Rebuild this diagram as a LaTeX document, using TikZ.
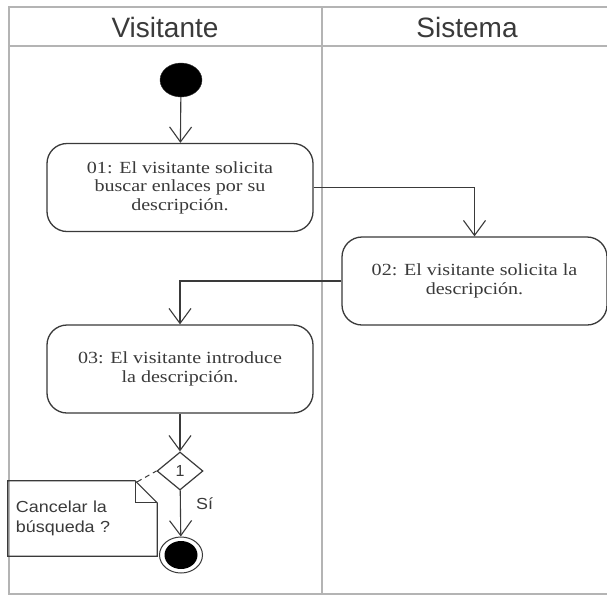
\documentclass[tikz,border=0pt]{standalone}
\usepackage{fontspec}
\setmainfont[FakeStretch=1.18]{Liberation Serif}
\newfontfamily\headfont{Liberation Sans}
\newfontfamily\notefont[FakeStretch=1.12]{Liberation Sans}
\usetikzlibrary{arrows.meta,shapes.geometric}
\definecolor{lane}{HTML}{B4B4B4}
\definecolor{ink}{HTML}{3A3A3A}
\tikzset{
  lanerule/.style={draw=lane, line width=2pt},
  header/.style={font=\headfont\fontsize{28}{32}\selectfont, text=ink},
  action/.style={draw=ink, line width=1.3pt, rounded corners=20pt, inner sep=0pt,
    minimum width=266pt, minimum height=88pt, align=center, text=ink,
    font=\fontsize{17}{18.5}\selectfont},
  flow/.style={draw=ink, line width=1.1pt, -{Straight Barb[length=15pt, width=22pt, line width=1.1pt]}},
  initial/.style={ellipse, fill=black, draw=ink, minimum width=42pt, minimum height=34pt, inner sep=0pt},
  finalring/.style={ellipse, draw=ink, line width=1pt, minimum width=43pt, minimum height=36pt, inner sep=0pt},
  decision/.style={diamond, draw=ink, line width=1.2pt, minimum width=46pt, minimum height=38pt,
    inner sep=0pt, text=ink, font=\headfont\fontsize{16}{18}\selectfont},
  notebox/.style={minimum width=149pt, minimum height=75pt, inner sep=8pt, text width=133pt,
    align=left, text=ink, font=\notefont\fontsize{16}{20}\selectfont},
  guard/.style={text=ink, font=\notefont\fontsize{16}{18}\selectfont, inner sep=0pt},
}
\begin{document}
\begin{tikzpicture}[x=1pt, y=-1pt]
\useasboundingbox (0,0) rectangle (607,595);
\fill[white] (0,0) rectangle (607,595);

% swimlane frame
\draw[lanerule] (607,7) -- (9,7) -- (9,594) -- (607,594);
\draw[lanerule] (9,46) -- (607,46);
\draw[lanerule] (322,7) -- (322,594);
\node[header] (hv) at (165,27) {Visitante};
\node[header] (hs) at (467,27) {Sistema};

% activity nodes
\node[initial] (start) at (181,80) {};
\node[action] (a1) at (180,187.5) {01: El visitante solicita\\buscar enlaces por su\\descripción.};
\node[action, minimum width=265pt] (a2) at (474.5,281) {02: El visitante solicita la\\descripción.};
\node[action] (a3) at (180,369) {03: El visitante introduce\\la descripción.};
\node[decision] (dec) at (180,471) {1};
\node[finalring] (stop) at (181,555) {};
\fill[black] (stop.center) ellipse [x radius=16.5pt, y radius=14pt];

% note attached to the decision, with its folded corner
\node[notebox] (note) at (82.5,518.5) {Cancelar la\\búsqueda ?};
\draw[ink, line width=1.2pt]
  (note.north west) -- ([xshift=-22pt]note.north east) -- ([yshift=-22pt]note.north east)
  -- (note.south east) -- (note.south west) -- cycle;
\draw[ink, line width=1pt] ([xshift=-22pt]note.north east) |- ([yshift=-22pt]note.north east);
\draw[ink, line width=1pt, dash pattern=on 5pt off 4pt] ([xshift=-20pt, yshift=-1pt]note.north east) -- (dec.west);

% control flow
\draw[flow] (start) -- (a1);
\draw[flow] (a1.east) -| (a2.north);
\draw[flow] (a2.west) -| (a3.north);
\draw[flow] (a3) -- (dec);
\draw[flow] (dec) -- (stop);
\node[guard, anchor=west] (yes) at (196,504) {Sí};
\end{tikzpicture}
\end{document}
